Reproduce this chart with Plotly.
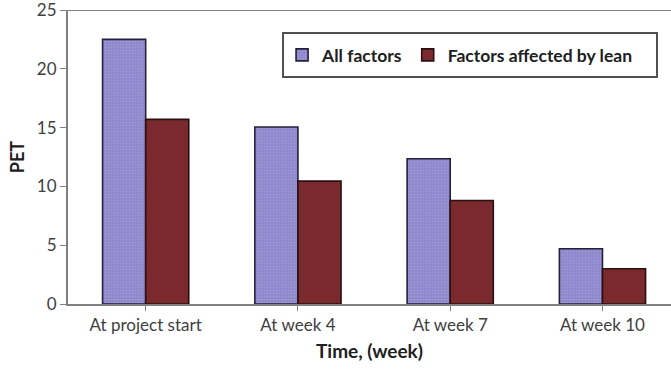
import plotly.graph_objects as go

categories = ["At project start", "At week 4", "At week 7", "At week 10"]
all_factors = [22.5, 15.05, 12.35, 4.7]
lean_factors = [15.7, 10.45, 8.8, 3.0]
y_ticks = [0, 5, 10, 15, 20, 25]

FONT = "Lato, 'Open Sans', sans-serif"
TEXT = "#404040"

fig = go.Figure()
fig.add_trace(go.Bar(
    x=categories, y=all_factors, name="All factors",
    marker=dict(color="#9088cc", line=dict(color="#22203a", width=1.6),
                pattern=dict(shape=".", fgcolor="#b2acdf", size=3, solidity=0.25)),
))
fig.add_trace(go.Bar(
    x=categories, y=lean_factors, name="Factors affected by lean",
    marker=dict(color="#7a2a2c", line=dict(color="#2a1010", width=1.6)),
))

# slightly shorter than the window so the page never needs a scrollbar
fig.update_layout(
    width=671, height=370,
    margin=dict(l=68, r=0, t=10, b=66, autoexpand=False),
    paper_bgcolor="white", plot_bgcolor="white",
    barmode="group", bargap=0.434, bargroupgap=0,
    font=dict(family=FONT, color=TEXT, size=17),
    showlegend=True,
    legend=dict(
        orientation="h", x=0.355, y=0.847, xanchor="left", yanchor="middle",
        borderwidth=0, bgcolor="rgba(0,0,0,0)",
        font=dict(family=FONT, size=17.5, color="#202020", weight="bold"),
        itemwidth=30, traceorder="normal",
    ),
    xaxis=dict(
        range=[-0.51, 3.45], showgrid=False,
        showline=True, linecolor="#808080", linewidth=2,
        ticks="outside", ticklen=5, tickcolor="#808080",
        tickfont=dict(size=17, color=TEXT),
        title=dict(text="Time, (week)", font=dict(size=19, color="#202020", weight="bold"),
                   standoff=10),
    ),
    yaxis=dict(
        range=[0, 25], tickvals=y_ticks, showgrid=False,
        showline=True, linecolor="#808080", linewidth=2,
        ticks="outside", ticklen=6, tickcolor="#808080",
        tickfont=dict(size=17, color=TEXT), ticklabeloverflow="allow",
        title=dict(text="PET", font=dict(size=18, color="#202020", weight="bold"),
                   standoff=8),
    ),
)

# top border of the plot area
fig.add_shape(type="line", xref="paper", yref="y", x0=0, x1=1, y0=25, y1=25,
              line=dict(color="#808080", width=2))

# frame around the legend
fig.add_shape(type="rect", xref="paper", yref="paper",
              x0=0.3566, x1=0.9768, y0=0.772, y1=0.922,
              line=dict(color="#505050", width=2), fillcolor="white", layer="below")

fig.write_html("out.html")
